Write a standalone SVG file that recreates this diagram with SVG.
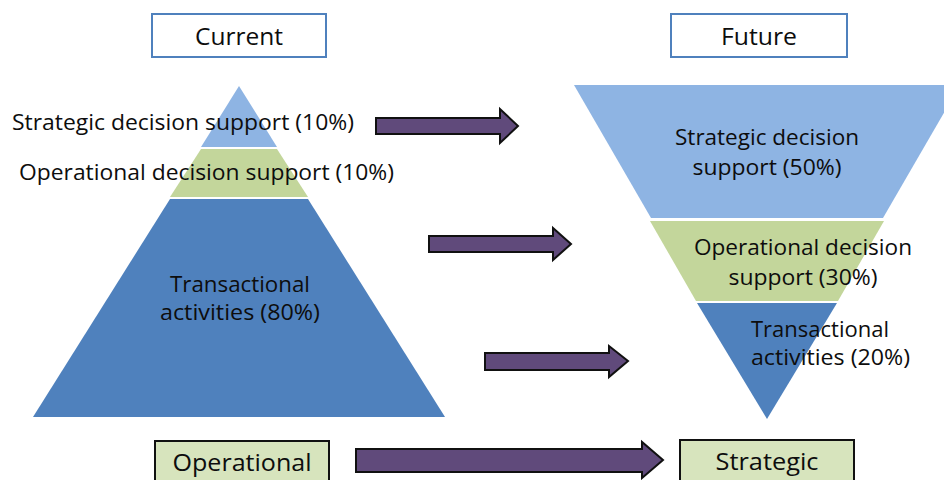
<svg xmlns="http://www.w3.org/2000/svg" width="944" height="480" viewBox="0 0 944 480">
<style>
.t{font-family:"Open Sans","Liberation Sans",sans-serif;font-size:21px;fill:#0d0d0d;}
.h{font-size:23px;}
.m{text-anchor:middle;}
.hdr{fill:#fff;stroke:#4F81BD;stroke-width:2;}
.lbl{fill:#D7E4BD;stroke:#111;stroke-width:2;}
.arr{fill:#604A7B;stroke:#111;stroke-width:2;stroke-linejoin:miter;}
.s{fill:#8EB4E3;}
.o{fill:#C3D69B;}
.x{fill:#4F81BD;}
</style>
<rect width="944" height="480" fill="#fff"/>
<g id="current-header">
<rect class="hdr" x="152" y="14" width="174" height="43"/>
<text class="t h m" x="239" y="45" textLength="88" lengthAdjust="spacingAndGlyphs">Current</text>
</g>
<g id="future-header">
<rect class="hdr" x="671" y="14" width="176" height="43"/>
<text class="t h m" x="759" y="45" textLength="76" lengthAdjust="spacingAndGlyphs">Future</text>
</g>
<g id="current-pyramid">
<polygon class="s" points="239,86 277,147 201,147"/>
<polygon class="o" points="201,149 277,149 308,197 170,197"/>
<polygon class="x" points="170,199 308,199 445,417 33,417"/>
<text class="t" x="12" y="130" textLength="342" lengthAdjust="spacingAndGlyphs">Strategic decision support (10%)</text>
<text class="t" x="19" y="180" textLength="375" lengthAdjust="spacingAndGlyphs">Operational decision support (10%)</text>
<text class="t m" x="240" y="292" textLength="140" lengthAdjust="spacingAndGlyphs">Transactional</text>
<text class="t m" x="240" y="320" textLength="160" lengthAdjust="spacingAndGlyphs">activities (80%)</text>
</g>
<g id="future-pyramid">
<polygon class="s" points="574,85 960,85 883,218 651,218"/>
<polygon class="o" points="650,221 884,221 838,301 696,301"/>
<polygon class="x" points="697,303 837,303 767,419"/>
<text class="t m" x="767" y="145" textLength="184" lengthAdjust="spacingAndGlyphs">Strategic decision</text>
<text class="t m" x="767" y="175" textLength="149" lengthAdjust="spacingAndGlyphs">support (50%)</text>
<text class="t m" x="803" y="255" textLength="218" lengthAdjust="spacingAndGlyphs">Operational decision</text>
<text class="t m" x="803" y="285" textLength="149" lengthAdjust="spacingAndGlyphs">support (30%)</text>
<text class="t" x="751" y="337" textLength="138" lengthAdjust="spacingAndGlyphs">Transactional</text>
<text class="t" x="751" y="365" textLength="159" lengthAdjust="spacingAndGlyphs">activities (20%)</text>
</g>
<g id="operational">
<rect class="lbl" x="155" y="441" width="174" height="50"/>
<text class="t h m" x="242" y="471" textLength="139" lengthAdjust="spacingAndGlyphs">Operational</text>
</g>
<g id="strategic">
<rect class="lbl" x="680" y="440" width="174" height="51"/>
<text class="t h m" x="767" y="470" textLength="103" lengthAdjust="spacingAndGlyphs">Strategic</text>
</g>
<g id="connectors">
<polygon class="arr" points="376,118 500,118 500,109 518,126 500,143 500,134 376,134"/>
<polygon class="arr" points="429,236 553,236 553,228 571,244 553,260 553,252 429,252"/>
<polygon class="arr" points="485,353 609,353 609,346 628,361 609,377 609,370 485,370"/>
<polygon class="arr" points="356,449 642,449 642,442 663,460 642,478 642,472 356,472"/>
</g>
</svg>
